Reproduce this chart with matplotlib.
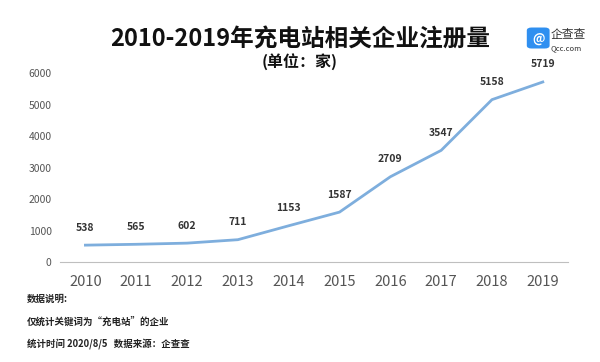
import matplotlib.pyplot as plt
from matplotlib.patches import FancyBboxPatch

plt.rcParams['font.family'] = ['Noto Sans CJK SC', 'DejaVu Sans']

years = ["2010", "2011", "2012", "2013", "2014", "2015", "2016", "2017", "2018", "2019"]
counts = [538, 565, 602, 711, 1153, 1587, 2709, 3547, 5158, 5719]
yticks = [0, 1000, 2000, 3000, 4000, 5000, 6000]

fig = plt.figure(figsize=(6, 3.62), dpi=100)
ax = fig.add_axes([0.1, 0.276, 0.847, 0.522])

x = list(range(len(years)))
ax.plot(x, counts, color="#7eaedd", linewidth=2)

for xi, v in zip(x, counts):
    ax.annotate(str(v), (xi, v), xytext=(0, 9), textcoords="offset points",
                ha="center", va="bottom", fontsize=7.5, fontweight="bold", color="#333333")

ax.set_xlim(-0.5, len(years) - 0.5)
ax.set_ylim(0, 6000)
ax.set_xticks(x)
ax.set_xticklabels(years, fontsize=10.5, color="#555555")
ax.set_yticks(yticks)
ax.set_yticklabels([str(t) for t in yticks], fontsize=7.5, color="#555555")
ax.tick_params(axis="both", length=0)
ax.tick_params(axis="x", pad=9)
ax.tick_params(axis="y", pad=6)
for s in ["top", "right", "left"]:
    ax.spines[s].set_visible(False)
ax.spines["bottom"].set_color("#bfbfbf")

fig.text(0.5, 0.89, "2010-2019年充电站相关企业注册量", ha="center", va="center",
         fontsize=17, fontweight="bold", color="#111111")
fig.text(0.5, 0.83, "(单位：家)", ha="center", va="center",
         fontsize=11.5, fontweight="bold", color="#111111")

fig.text(0.045, 0.175, "数据说明:", fontsize=6.8, fontweight="bold", color="#222222", va="center")
fig.text(0.045, 0.113, "仅统计关键词为“充电站”的企业", fontsize=6.8, fontweight="bold", color="#222222", va="center")
fig.text(0.045, 0.05, "统计时间 2020/8/5   数据来源：企查查", fontsize=6.8, fontweight="bold", color="#222222", va="center")

# logo
logo = FancyBboxPatch((0.882, 0.87), 0.03, 0.05, boxstyle="round,pad=0.004,rounding_size=0.008",
                      transform=fig.transFigure, facecolor="#2f8ff0", edgecolor="none")
fig.patches.append(logo)
fig.text(0.897, 0.895, "@", ha="center", va="center", fontsize=9, fontweight="bold", color="white")
fig.text(0.918, 0.905, "企查查", ha="left", va="center", fontsize=8.5, color="#333333")
fig.text(0.918, 0.868, "Qcc.com", ha="left", va="center", fontsize=5.5, color="#333333")

fig.savefig("out.png", dpi=100)
